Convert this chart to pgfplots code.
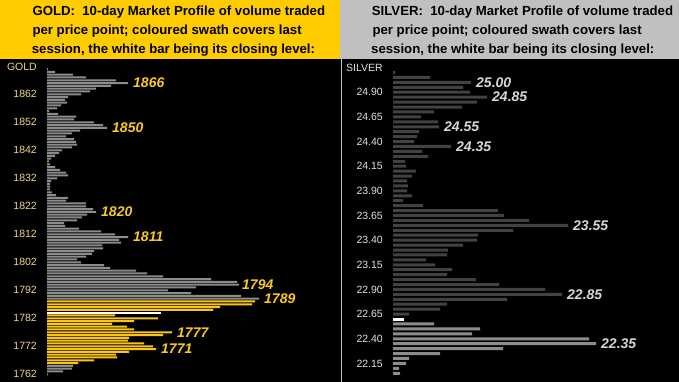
\documentclass[border=0pt]{standalone}
\usepackage{pgfplots}
\pgfplotsset{compat=1.18}
\usepackage{fontspec}
\setmainfont{Liberation Sans}
\definecolor{hdrgold}{RGB}{255,204,0}
\definecolor{hdrsilver}{RGB}{192,192,192}
\definecolor{divider}{RGB}{200,200,200}
\definecolor{goldbar}{RGB}{250,198,20}
\definecolor{goldlbl}{RGB}{250,200,30}
\definecolor{goldtick}{RGB}{240,214,130}
\definecolor{gbar}{RGB}{140,140,140}
\definecolor{sdark}{RGB}{66,66,66}
\definecolor{slight}{RGB}{140,140,140}
\definecolor{stick}{RGB}{225,225,225}
\definecolor{slbl}{RGB}{215,215,215}
\pgfplotsset{
  mp/.style={
    scale only axis, anchor=south west, clip=false,
    enlargelimits=false,
    axis line style={draw=none}, major tick length=0pt, tick style={draw=none},
    xtick=\empty,
    yticklabel style={inner sep=0pt, anchor=east, xshift=-10pt, font=\fontsize{10.5}{12}\selectfont},
  },
}
\tikzset{
  lbl/.style={anchor=west, inner sep=0pt, xshift=5pt, font=\fontsize{14}{16}\selectfont\bfseries\itshape},
}
\begin{document}
\begin{tikzpicture}[x=1pt,y=1pt]
\fill[black] (0,0) rectangle (679,323);
\fill[hdrgold] (0,322.7) rectangle (340,382);
\fill[hdrsilver] (340,322.7) rectangle (679,382);
\fill[divider] (340.6,0) rectangle (341.8,322.8);
\begin{scope}[font=\fontsize{13.2}{15}\selectfont\bfseries]
\node[anchor=base west, inner sep=0pt] at (32.3,366.3) {GOLD:\ \ 10-day Market Profile of volume traded};
\node[anchor=base west, inner sep=0pt] at (32.3,347.5) {per price point; coloured swath covers last};
\node[anchor=base west, inner sep=0pt] at (31.7,328.7) {session, the white bar being its closing level:};
\node[anchor=base west, inner sep=0pt] at (371.7,366.3) {SILVER:\ \ 10-day Market Profile of volume traded};
\node[anchor=base west, inner sep=0pt] at (372.3,347.5) {per price point; coloured swath covers last};
\node[anchor=base west, inner sep=0pt] at (371,328.7) {session, the white bar being its closing level:};
\end{scope}

% GOLD
\begin{axis}[mp, at={(47pt,2.1pt)}, width=291pt, height=319.2pt,
  xmin=0, xmax=291, ymin=1760, ymax=1874,
  ytick={1762,1772,1782,1792,1802,1812,1822,1832,1842,1852,1862},
  yticklabels={1762,1772,1782,1792,1802,1812,1822,1832,1842,1852,1862},
  yticklabel style={text=goldtick}]
\addplot[xbar, bar width=2pt, bar shift=0pt, fill=gbar, draw=none] coordinates {
(1,1871) (8,1870) (26,1869) (39,1868) (69,1867) (81,1866) (64,1865) (49,1864) (43,1863) (34,1862)
(21,1861) (18,1860) (20,1859) (14,1858) (10,1857) (2,1856) (11,1855) (29,1854) (27,1853) (47,1852)
(56,1851) (60,1850) (33,1849) (25,1848) (19,1847) (27,1846) (29,1845) (30,1844) (25,1843) (15,1842)
(12,1841) (8,1840) (4,1839) (2,1838) (3,1837) (8,1836) (13,1835) (19,1834) (21,1833) (10,1832)
(4,1831) (3,1830) (3,1829) (3,1828) (5,1827) (9,1826) (21,1825) (19,1824) (39,1823) (39,1822)
(46,1821) (49,1820) (40,1819) (35,1818) (30,1817) (17,1816) (18,1815) (32,1814) (54,1813) (68,1812)
(81,1811) (72,1810) (74,1809) (55,1808) (56,1807) (47,1806) (45,1805) (39,1804) (30,1803) (34,1802)
(57,1801) (63,1800) (89,1799) (100,1798) (116,1797) (164,1796) (190,1795) (192,1794) (149,1793) (121,1792)
(144,1791) (194,1790) (212,1789) (26,1765) (25,1764) (16,1763) (1,1762)};
\addplot[xbar, bar width=2pt, bar shift=0pt, fill=goldbar, draw=none] coordinates {
(208,1788) (205,1787) (173,1786) (166,1785) (68,1783) (111,1782) (87,1781) (65,1780) (80,1779) (87,1778)
(125,1777) (116,1776) (82,1775) (81,1774) (97,1773) (106,1772) (109,1771) (82,1770) (69,1769) (70,1768)
(47,1767) (31,1766)};
\addplot[xbar, bar width=2pt, bar shift=0pt, fill=white, draw=none] coordinates {(114,1784)};
\node[anchor=east, inner sep=0pt, xshift=-10pt, text=goldtick, font=\fontsize{10.5}{12}\selectfont] at (axis cs:0,1871.7) {GOLD};
\node[lbl, text=goldlbl] at (axis cs:81,1866) {1866};
\node[lbl, text=goldlbl] at (axis cs:60,1850) {1850};
\node[lbl, text=goldlbl] at (axis cs:49,1820) {1820};
\node[lbl, text=goldlbl] at (axis cs:81,1811) {1811};
\node[lbl, text=goldlbl, xshift=-2pt] at (axis cs:192,1794) {1794};
\node[lbl, text=goldlbl] at (axis cs:212,1789) {1789};
\node[lbl, text=goldlbl] at (axis cs:125,1777) {1777};
\node[lbl, text=goldlbl] at (axis cs:109,1771) {1771};
\end{axis}

% SILVER
\begin{axis}[mp, at={(393pt,3.8pt)}, width=286pt, height=310.6pt,
  xmin=0, xmax=286, ymin=22.00, ymax=25.15,
  ytick={22.15,22.40,22.65,22.90,23.15,23.40,23.65,23.90,24.15,24.40,24.65,24.90},
  yticklabels={22.15,22.40,22.65,22.90,23.15,23.40,23.65,23.90,24.15,24.40,24.65,24.90},
  yticklabel style={text=stick}]
\addplot[xbar, bar width=3pt, bar shift=0pt, fill=sdark, draw=none] coordinates {
(2,25.10) (37,25.05) (78,25.00) (70,24.95) (77,24.90) (94,24.85) (84,24.80) (69,24.75) (41,24.70) (28,24.65)
(45,24.60) (46,24.55) (26,24.50) (24,24.45) (21,24.40) (58,24.35) (29,24.30) (35,24.25) (12,24.20) (13,24.15)
(23,24.10) (19,24.05) (14,24.00) (15,23.95) (14,23.90) (19,23.85) (10,23.80) (30,23.75) (105,23.70) (111,23.65)
(136,23.60) (175,23.55) (120,23.50) (85,23.45) (84,23.40) (70,23.35) (55,23.30) (54,23.25) (33,23.20) (42,23.15)
(59,23.10) (54,23.05) (83,23.00) (106,22.95) (152,22.90) (169,22.85) (114,22.80) (54,22.75) (47,22.70) (16,22.65)};
\addplot[xbar, bar width=3pt, bar shift=0pt, fill=slight, draw=none] coordinates {
(41,22.55) (87,22.50) (79,22.45) (196,22.40) (203,22.35) (110,22.30) (47,22.25) (16,22.20) (13,22.15) (6,22.10) (7,22.05)};
\addplot[xbar, bar width=3pt, bar shift=0pt, fill=white, draw=none] coordinates {(11,22.60)};
\node[anchor=east, inner sep=0pt, xshift=-10pt, text=stick, font=\fontsize{10.5}{12}\selectfont] at (axis cs:0,25.146) {SILVER};
\node[lbl, text=slbl] at (axis cs:78,25.00) {25.00};
\node[lbl, text=slbl] at (axis cs:94,24.85) {24.85};
\node[lbl, text=slbl] at (axis cs:46,24.55) {24.55};
\node[lbl, text=slbl] at (axis cs:58,24.35) {24.35};
\node[lbl, text=slbl] at (axis cs:175,23.55) {23.55};
\node[lbl, text=slbl] at (axis cs:169,22.85) {22.85};
\node[lbl, text=slbl] at (axis cs:203,22.35) {22.35};
\end{axis}
\end{tikzpicture}
\end{document}
